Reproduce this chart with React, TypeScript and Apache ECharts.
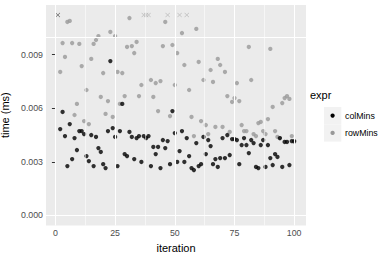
import React, { useEffect, useRef } from "react";
import * as echarts from "echarts";

// Iterations 1..100; null = value drawn as a capped "x" marker at the top
const colMins: (number | null)[] = [
  null,
  4.83, 5.79, 4.44, 2.76, 5.11, 3.15, 4.33, 3.66, 4.72, 4.72,
  4.55, 3.32, 3.04, 4.50, 2.76, 4.39, 3.77, 3.55, 2.87, 2.65,
  4.72, 8.64, 4.89, 4.39, 2.76, 4.72, 6.24, 3.43, 3.32, 4.67,
  4.39, 3.15, 4.33, 4.44, 2.99, 4.44, 4.33, 4.44, 2.76, 3.83,
  3.43, 3.83, 2.65, 4.22, 3.77, 4.16, 2.87, 5.84, 4.61, 2.99,
  3.60, 4.72, 2.99, 4.33, 3.32, 2.65, 2.54, 4.05, 2.76, 2.87,
  4.39, 3.43, 4.22, 3.88, 2.87, 3.15, 2.71, 3.21, 4.33, 3.21,
  4.50, 3.38, 4.27, 4.27, 4.22, 2.87, 3.94, 4.33, 3.94, 3.49,
  4.22, 4.05, 2.71, 2.65, 3.94, 4.22, 2.71, 3.94, 3.21, 2.82,
  3.43, 3.27, 4.33, 2.71, 4.11, 4.11, 2.82, 4.16,
  4.16,
];

const rowMins: (number | null)[] = [
  null, 8.03, 9.65, 8.87, 10.83, 10.89, 9.65, 5.62, 6.24, 9.60,
  8.36, 5.28, 7.02, 5.11, 8.76, 9.60, 9.82, 10.04, 6.63, 7.97,
  5.68, 6.40, 10.27, 5.51, 10.04, 8.03, 6.24, 7.97, 6.68, 9.43,
  11.05, 9.48, 9.09, 9.71, 6.68, 7.30, null, null, null, 7.58,
  6.63, 7.41, 5.84, 7.52, 9.48, 10.83, null, 5.56, 9.54, 7.30,
  9.09, null, 10.21, 8.42, null, 7.02, 5.51, 4.44, 10.44, 8.59,
  5.28, 7.58, 5.06, 4.55, 8.14, 7.47, 4.95, 8.76, 8.42, 4.95,
  8.03, 6.68, 4.67, 6.35, 6.57, 7.41, 6.40, 5.06, 4.72, 4.72,
  9.43, 7.58, 4.55, 4.44, 5.17, 5.23, 4.72, 4.55, 5.39, 9.32,
  6.07, 4.72, 4.39, 4.33, 6.29, 6.57, 6.68, 6.52, 4.44, 4.11,
];

const topCapValue = 11.22; // (x 0.001 ms) where capped points are drawn
const xTicks = [0, 25, 50, 75, 100];
const xMinor = [12.5, 37.5, 62.5, 87.5];
const yTicks = [0, 0.003, 0.006, 0.009];
const yMinor = [0.0015, 0.0045, 0.0075, 0.0105];
const seriesNames = ["colMins", "rowMins"];
const seriesColors = ["#000000", "#999999"];

const CROSS =
  "path://M0,0.8L0.8,0L5,4.2L9.2,0L10,0.8L5.8,5L10,9.2L9.2,10L5,5.8L0.8,10L0,9.2L4.2,5Z";

function points(vals: (number | null)[]) {
  const out: number[][] = [];
  vals.forEach((v, i) => {
    if (v !== null) out.push([i + 1, v / 1000]);
  });
  return out;
}
function capped(vals: (number | null)[]) {
  const out: number[][] = [];
  vals.forEach((v, i) => {
    if (v === null) out.push([i + 1, topCapValue / 1000]);
  });
  return out;
}

export default function App() {
  const ref = useRef<HTMLDivElement>(null);
  useEffect(() => {
    document.body.style.margin = "0";
    const chart = echarts.init(ref.current!, undefined, { renderer: "svg" });
    const font = "Liberation Sans, Arial, Helvetica, sans-serif";
    const gridLines = (axis: "xAxis" | "yAxis", vals: number[], w: number) =>
      vals.map((v) => ({ [axis]: v, lineStyle: { color: "#FFFFFF", width: w, type: "solid" } }));
    const option: any = {
      animation: false,
      backgroundColor: "#FFFFFF",
      textStyle: { fontFamily: font },
      grid: {
        left: 46,
        right: 84,
        top: 5,
        bottom: 34.6,
        show: true,
        backgroundColor: "#EBEBEB",
        borderWidth: 0,
        containLabel: false,
        outerBoundsMode: "none",
      },
      xAxis: {
        type: "value",
        min: -3.95,
        max: 104.95,
        axisLine: { show: false },
        splitLine: { show: false },
        axisTick: { show: true, length: 3.5, customValues: xTicks, lineStyle: { color: "#333333", width: 1 } },
        axisLabel: { customValues: xTicks, color: "#4D4D4D", fontSize: 8.8, margin: 3, fontFamily: font },
        name: "iteration",
        nameLocation: "middle",
        nameGap: 16,
        nameTextStyle: { fontSize: 11, color: "#000000", fontFamily: font },
      },
      yAxis: {
        type: "value",
        min: -0.000561,
        max: 0.01178,
        axisLine: { show: false },
        splitLine: { show: false },
        axisTick: { show: true, length: 3.5, customValues: yTicks, lineStyle: { color: "#333333", width: 1 } },
        axisLabel: {
          customValues: yTicks,
          color: "#4D4D4D",
          fontSize: 8.8,
          margin: 3,
          fontFamily: font,
          formatter: (v: number) => v.toFixed(3),
        },
        name: "time (ms)",
        nameLocation: "middle",
        nameRotate: 90,
        nameGap: 31,
        nameTextStyle: { fontSize: 11, color: "#000000", fontFamily: font },
      },
      series: [
        {
          type: "scatter",
          name: "grid",
          data: [],
          z: 1,
          silent: true,
          markLine: {
            silent: true,
            symbol: ["none", "none"],
            label: { show: false },
            animation: false,
            data: [
              ...gridLines("xAxis", xMinor, 0.55),
              ...gridLines("yAxis", yMinor, 0.55),
              ...gridLines("xAxis", xTicks, 1.1),
              ...gridLines("yAxis", yTicks, 1.1),
            ],
          },
        },
        {
          type: "scatter",
          name: seriesNames[1],
          data: points(rowMins),
          symbol: "circle",
          symbolSize: 4.3,
          itemStyle: { color: seriesColors[1] },
          z: 3,
        },
        {
          type: "scatter",
          name: seriesNames[1] + " capped",
          data: capped(rowMins),
          symbol: CROSS,
          symbolSize: 4.6,
          itemStyle: { color: "#9E9E9E" },
          z: 3,
        },
        {
          type: "scatter",
          name: seriesNames[0],
          data: points(colMins),
          symbol: "circle",
          symbolSize: 4.3,
          itemStyle: { color: seriesColors[0] },
          z: 4,
        },
        {
          type: "scatter",
          name: seriesNames[0] + " capped",
          data: capped(colMins),
          symbol: CROSS,
          symbolSize: 4.6,
          itemStyle: { color: "#333333" },
          z: 4,
        },
      ],
      graphic: [
        { type: "text", x: 310, y: 95, style: { text: "expr", fontSize: 11, fill: "#000000", verticalAlign: "middle", fontFamily: font } },
        { type: "rect", shape: { x: 324, y: 107, width: 17.3, height: 17.3 }, style: { fill: "#F2F2F2" } },
        { type: "rect", shape: { x: 324, y: 124.3, width: 17.3, height: 17.3 }, style: { fill: "#F2F2F2" } },
        { type: "circle", shape: { cx: 332.6, cy: 115.6, r: 2.15 }, style: { fill: seriesColors[0] } },
        { type: "circle", shape: { cx: 332.6, cy: 132.9, r: 2.15 }, style: { fill: seriesColors[1] } },
        { type: "text", x: 345, y: 115.6, style: { text: seriesNames[0], fontSize: 8.8, fill: "#000000", verticalAlign: "middle", fontFamily: font } },
        { type: "text", x: 345, y: 132.9, style: { text: seriesNames[1], fontSize: 8.8, fill: "#000000", verticalAlign: "middle", fontFamily: font } },
      ],
    };
    chart.setOption(option);
    return () => chart.dispose();
  }, []);
  return <div ref={ref} style={{ width: 390, height: 260 }} />;
}
